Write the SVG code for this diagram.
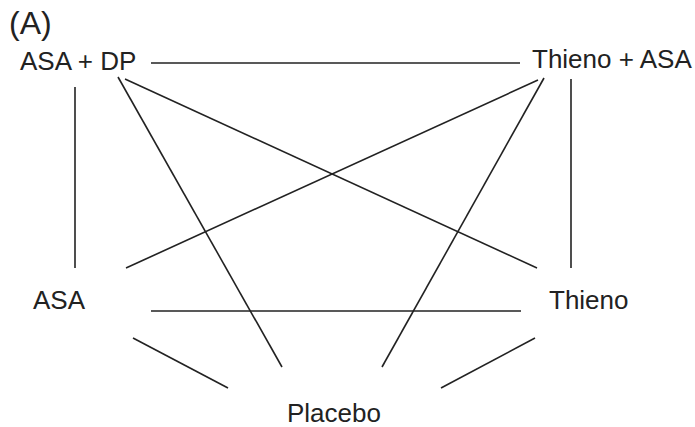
<svg xmlns="http://www.w3.org/2000/svg" width="695" height="427" viewBox="0 0 695 427">
<style>
text{font-family:"Liberation Sans",Arial,sans-serif;fill:#222;}
.lbl{font-size:26px;}
.conn line{stroke:#222;stroke-width:1.6;stroke-linecap:butt;}
</style>
<rect width="695" height="427" fill="#fff"/>
<text x="9" y="34" style="font-size:32px">(A)</text>
<g id="node-asa-dp"><text class="lbl" x="20" y="70">ASA + DP</text></g>
<g id="node-thieno-asa"><text class="lbl" x="532" y="68">Thieno + ASA</text></g>
<g id="node-asa"><text class="lbl" x="33" y="309">ASA</text></g>
<g id="node-thieno"><text class="lbl" x="549" y="309">Thieno</text></g>
<g id="node-placebo"><text class="lbl" x="287" y="422">Placebo</text></g>
<g id="connectors" class="conn">
<line x1="151" y1="63" x2="520" y2="63"/>
<line x1="75" y1="87" x2="75" y2="268"/>
<line x1="571" y1="79" x2="571" y2="268"/>
<line x1="125" y1="79" x2="537" y2="268"/>
<line x1="118" y1="77" x2="282" y2="367"/>
<line x1="538" y1="80" x2="126" y2="268"/>
<line x1="544" y1="78" x2="382" y2="367"/>
<line x1="151" y1="311" x2="521" y2="311"/>
<line x1="133" y1="338" x2="228" y2="388"/>
<line x1="535" y1="338" x2="441" y2="388"/>
</g>
</svg>
